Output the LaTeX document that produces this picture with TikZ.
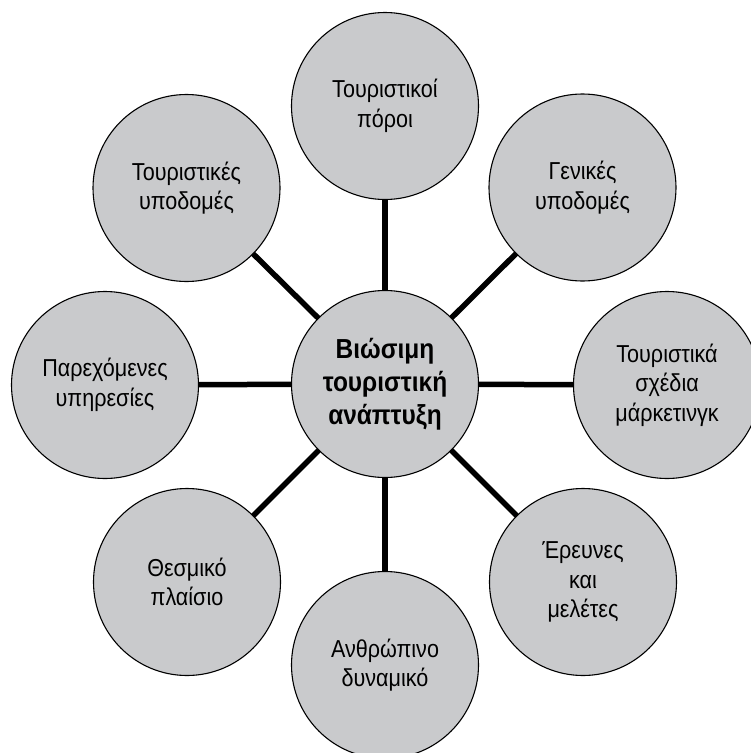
\documentclass[tikz,border=0pt]{standalone}
\usepackage{fontspec}
\setmainfont{Liberation Sans}
\newfontfamily\narrowfont[FakeStretch=0.88]{Liberation Sans}
\newfontfamily\hubfont[FakeStretch=0.89]{Liberation Sans}
\definecolor{bubble}{RGB}{201,202,204}
\begin{document}
\begin{tikzpicture}[x=1pt,y=-1pt,
  bub/.style={circle,draw=black,line width=1.1pt,fill=bubble,minimum size=187pt,inner sep=0pt,outer sep=0pt,align=center,font=\narrowfont\fontsize{24.5}{29.5}\selectfont},
  hub/.style={bub,font=\hubfont\fontsize{27.5}{33}\selectfont\bfseries},
  link/.style={line width=5.5pt,draw=black}]
\clip (0,0) rectangle (751,753);
\node[hub] (c) at (385,384) {Βιώσιμη\\τουριστική\\ανάπτυξη};
\node[bub] (t) at (385,106) {Τουριστικοί\\πόροι};
\node[bub] (tr) at (582.5,187.5) {Γενικές\\υποδομές};
\node[bub] (r) at (667,385) {Τουριστικά\\σχέδια\\μάρκετινγκ};
\node[bub] (br) at (583,582) {Έρευνες\\και\\μελέτες};
\node[bub] (b) at (385,665) {Ανθρώπινο\\δυναμικό};
\node[bub] (bl) at (187,582) {Θεσμικό\\πλαίσιο};
\node[bub] (l) at (105,385) {Παρεχόμενες\\υπηρεσίες};
\node[bub] (tl) at (186.5,188) {Τουριστικές\\υποδομές};
\foreach \n in {t,tr,r,br,b,bl,l,tl} \draw[link] (c) -- (\n);
\end{tikzpicture}
\end{document}
